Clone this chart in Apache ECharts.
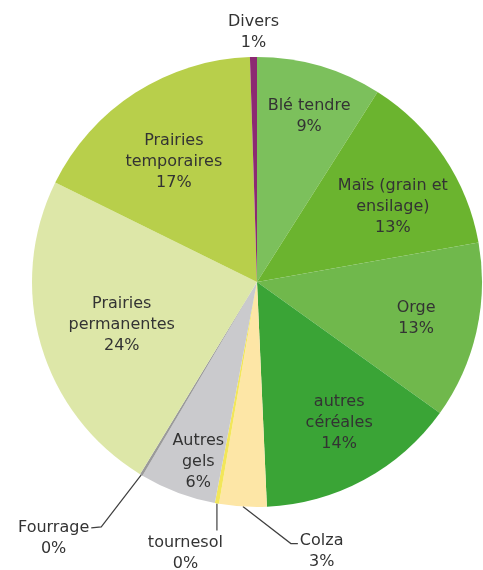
<!DOCTYPE html>
<html>
<head>
<meta charset="utf-8">
<script src="https://cdn.jsdelivr.net/npm/echarts@6/dist/echarts.min.js"></script>
<style>
  html, body { margin: 0; padding: 0; background: #ffffff; }
  #chart { width: 483px; height: 570px; }
</style>
</head>
<body>
<div id="chart"></div>
<script>
// Assolement : part de chaque culture dans la surface (en %)
const categories = [
  'Blé tendre',
  'Maïs (grain et\nensilage)',
  'Orge',
  'autres\ncéréales',
  'Colza',
  'tournesol',
  'Autres\ngels',
  'Fourrage',
  'Prairies\npermanentes',
  'Prairies\ntemporaires',
  'Divers'
];
const values = [9.0, 13.2, 12.7, 14.4, 3.4, 0.3, 5.5, 0.2, 23.6, 17.2, 0.5];
const colors = [
  '#7cc05c', '#6bb42f', '#70b84c', '#3aa436', '#fde6a6', '#f2e65a',
  '#cacacd', '#9a9a9a', '#dde7a8', '#b8cf4b', '#8c2a72'
];

// Pie geometry and label font
const CX = 257, CY = 282, R = 225;
const FONT_SIZE = 16, LINE_HEIGHT = 21, FONT_FAMILY = 'DejaVu Sans';

// Labels drawn over a slice: [fraction of radius, angle shift in degrees]
const insidePlacement = {
  'Blé tendre': [0.77, 1.3],
  'Maïs (grain et\nensilage)': [0.69, 4.9],
  'Orge': [0.725, 0],
  'autres\ncéréales': [0.725, -1.8],
  'Autres\ngels': [0.84, -2.6],
  'Prairies\npermanentes': [0.63, -1.2],
  'Prairies\ntemporaires': [0.65, -1.9]
};

// Labels drawn beyond the rim, with optional leader line (offsets from the slice edge)
const outsidePlacement = {
  'Divers':    { path: [], side: 'top', gap: 25 },
  'Fourrage':  { path: [[-40, 52], [-50, 53]], side: 'left', dy: 10 },
  'tournesol': { path: [[0, 27]], side: 'leftBelow', dy: 23 },
  'Colza':     { path: [[48, 37], [55, 37]], side: 'right', dy: 8 }
};

const total = values.reduce((a, b) => a + b, 0);
const midAngle = [];
let acc = 0;
values.forEach(v => { midAngle.push((acc + v / 2) / total * 360); acc += v; });

function polar(deg, r) {
  const a = deg * Math.PI / 180;
  return [CX + r * Math.sin(a), CY - r * Math.cos(a)];
}

// Width of the widest line of a label
const measureCtx = document.createElement('canvas').getContext('2d');
measureCtx.font = FONT_SIZE + 'px "' + FONT_FAMILY + '"';
function textWidth(str) {
  return Math.max.apply(null, str.split('\n').map(s => measureCtx.measureText(s).width));
}

function labelText(i) {
  return categories[i] + '\n' + Math.round(values[i] / total * 100) + '%';
}

const seriesData = categories.map((name, i) => {
  const outside = outsidePlacement[name];
  return {
    name: name,
    value: values[i],
    itemStyle: { color: colors[i] },
    labelLine: { show: !!(outside && outside.path.length) }
  };
});

const chart = echarts.init(document.getElementById('chart'), null, { renderer: 'canvas' });

chart.setOption({
  backgroundColor: '#ffffff',
  animation: false,
  series: [{
    type: 'pie',
    center: [CX, CY],
    radius: R,
    startAngle: 90,
    clockwise: true,
    avoidLabelOverlap: false,
    minShowLabelAngle: 0,
    silent: true,
    itemStyle: { borderWidth: 0 },
    label: {
      show: true,
      position: 'outside',
      width: 170,
      overflow: 'none',
      fontFamily: FONT_FAMILY,
      fontSize: FONT_SIZE,
      lineHeight: LINE_HEIGHT,
      color: '#333333',
      align: 'center',
      formatter: p => labelText(p.dataIndex)
    },
    labelLine: {
      show: false,
      length: 10,
      length2: 5,
      lineStyle: { color: '#404040', width: 1.2 }
    },
    emphasis: { disabled: true },
    data: seriesData,
    labelLayout: function (params) {
      const i = params.dataIndex;
      const name = categories[i];
      const inside = insidePlacement[name];
      if (inside) {
        const p = polar(midAngle[i] + inside[1], R * inside[0]);
        return { x: p[0], y: p[1], align: 'center', verticalAlign: 'middle', hideOverlap: false };
      }
      const o = outsidePlacement[name];
      const w = textWidth(labelText(i));
      const edge = polar(midAngle[i], R);
      const pts = [edge].concat(o.path.map(d => [edge[0] + d[0], edge[1] + d[1]]));
      const end = pts[pts.length - 1];
      let x, y;
      if (o.side === 'top') {
        x = edge[0]; y = edge[1] - o.gap;
      } else if (o.side === 'left') {
        x = end[0] - 2 - w / 2; y = end[1] + o.dy;
      } else if (o.side === 'leftBelow') {
        x = end[0] + 6 - w / 2; y = end[1] + o.dy;
      } else {
        x = end[0] + 2 + w / 2; y = end[1] + o.dy;
      }
      const res = { x: x, y: y, align: 'center', verticalAlign: 'middle', hideOverlap: false };
      if (o.path.length) res.labelLinePoints = pts;
      return res;
    }
  }]
});
</script>
</body>
</html>
